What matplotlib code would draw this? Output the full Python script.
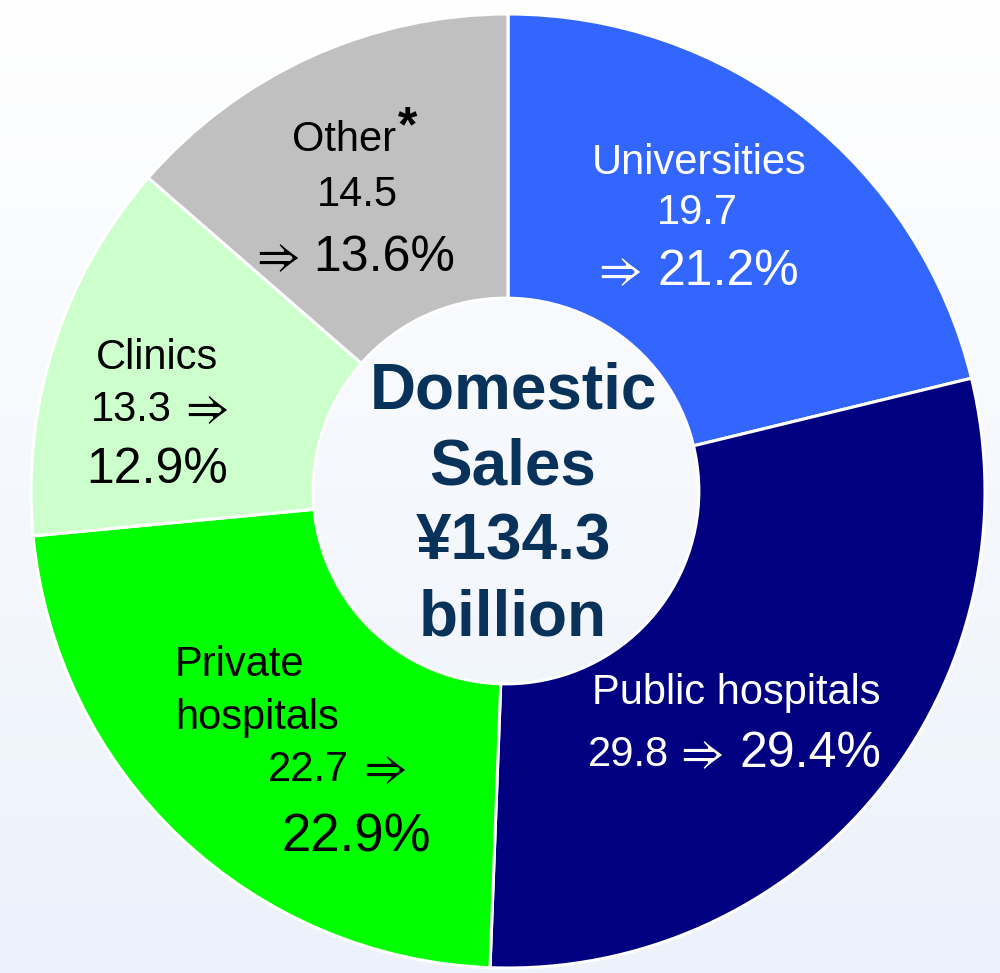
import numpy as np
import matplotlib.pyplot as plt
from matplotlib.patches import Circle

# segment data (share of domestic sales, %)
segments = ['Universities', 'Public hospitals', 'Private hospitals', 'Clinics', 'Other']
prev_values = [19.7, 29.8, 22.7, 13.3, 14.5]
shares = [21.2, 29.4, 22.9, 12.9, 13.6]
colors = ['#3366FF', '#000080', '#00FF00', '#CCFFCC', '#C0C0C0']
total_label = 'Domestic\nSales\n¥134.3\nbillion'

FONT = ['Liberation Sans', 'DejaVu Sans']
ARROW_FONT = ['STIXGeneral', 'DejaVu Sans']
W, H = 1000, 973

fig = plt.figure(figsize=(W / 100, H / 100), dpi=100)

# background: white fading to pale blue at the bottom
bg = fig.add_axes([0, 0, 1, 1])
grad = np.linspace(0, 1, 256)[:, None]
top = np.array([1.0, 1.0, 1.0])
bot = np.array([236, 241, 251]) / 255
img = top + (bot - top) * grad[:, :, None]
bg.imshow(img, aspect='auto', extent=[0, W, H, 0])
bg.set_xlim(0, W)
bg.set_ylim(H, 0)
bg.axis('off')

# pie, placed by its pixel bounding box
left, right, top_px, bottom_px = 31, 985, 14, 968
ax = fig.add_axes([left / W, (H - bottom_px) / H, (right - left) / W, (bottom_px - top_px) / H])
ax.pie(shares, colors=colors, startangle=90, counterclock=False,
       wedgeprops=dict(edgecolor='white', linewidth=2.2))
ax.set_aspect('auto')
ax.set_xlim(-1, 1)
ax.set_ylim(-1, 1)
ax.axis('off')

# overlay axes in pixel coordinates for the hole and labels
tx = fig.add_axes([0, 0, 1, 1])
tx.set_xlim(0, W)
tx.set_ylim(H, 0)
tx.axis('off')

hole = Circle((506, 491), 193, facecolor='none', edgecolor='white', linewidth=2, zorder=2)
tx.add_patch(hole)
gi = tx.imshow(img, aspect='auto', extent=[0, W, H, 0], zorder=1)
gi.set_clip_path(hole)

tx.text(513, 505, total_label, ha='center', va='center', fontsize=46, fontweight='bold',
        color='#08325A', family=FONT, linespacing=1.33, zorder=3)


def put(x, y, s, size, color, ha='center', weight='normal'):
    tx.text(x, y, s, ha=ha, va='center', fontsize=size, color=color, family=FONT,
            fontweight=weight, zorder=3)


def arrow(x, y, color):
    tx.text(x, y, '⇒', ha='center', va='center', fontsize=34, color=color,
            family=ARROW_FONT, zorder=3)


# Universities
put(699, 163, segments[0], 30, 'white')
put(697, 213, f'{prev_values[0]}', 30, 'white')
arrow(620, 273, 'white')
put(728, 272, f'{shares[0]}%', 36, 'white')

# Public hospitals
put(736, 693, segments[1], 30, 'white')
put(628, 755, f'{prev_values[1]}', 30, 'white')
arrow(702, 756, 'white')
put(810, 754, f'{shares[1]}%', 36, 'white')

# Private hospitals
put(175, 665, 'Private', 30, 'black', ha='left')
put(175, 718, 'hospitals', 30, 'black', ha='left')
put(308, 770, f'{prev_values[2]}', 30, 'black')
arrow(385, 771, 'black')
put(356, 838, f'{shares[2]}%', 38, 'black')

# Clinics
put(157, 358, segments[3], 30, 'black')
put(131, 410, f'{prev_values[3]}', 30, 'black')
arrow(207, 411, 'black')
put(157, 470, f'{shares[3]}%', 36, 'black')

# Other
put(344, 140, 'Other', 30, 'black')
put(408, 128, '*', 36, 'black', weight='bold')
put(357, 195, f'{prev_values[4]}', 30, 'black')
arrow(278, 259, 'black')
put(384, 258, f'{shares[4]}%', 36, 'black')

fig.savefig('out.png', dpi=100)
